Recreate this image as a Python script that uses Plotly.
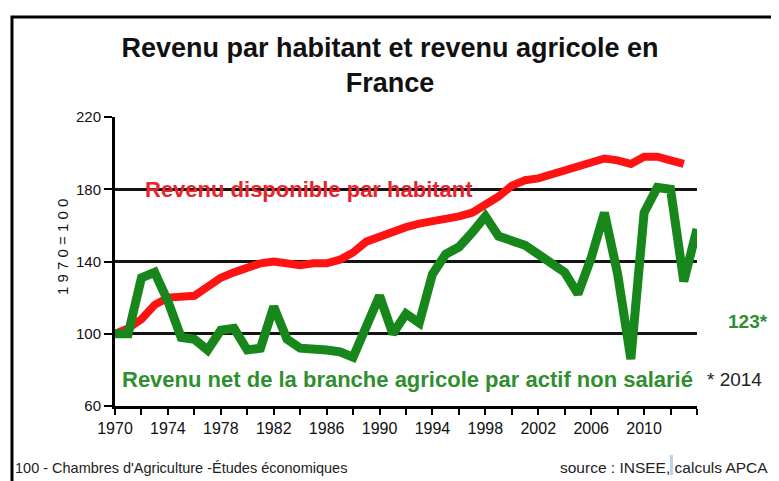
import plotly.graph_objects as go

# Données (base 100 = 1970)
annees_rev = list(range(1970, 2014))
revenu_habitant = [
    100, 103, 108, 116, 120, 120, 121, 126, 131, 134,
    137, 139, 140, 139, 138, 139, 139, 141, 145, 151,
    154, 157, 159, 161, 162, 164, 165, 167, 171, 176,
    182, 185, 186, 188, 190, 192, 194, 197, 196, 194,
    198, 198, 196, 194,
]

annees_agri = list(range(1970, 2015))
revenu_agricole = [
    100, 100, 131, 134, 118, 98, 97, 91, 102, 103,
    91, 92, 115, 97, 92, 92, 91, 90, 87, 104,
    121, 100, 111, 106, 133, 144, 148, 156, 165, 154,
    151, 149, 144, 139, 134, 122, 142, 167, 133, 86,
    167, 181, 180, 129, 158,
]

tick_years = list(range(1970, 2015, 2))
tick_labels = [str(y) if (y - 1970) % 4 == 0 and y <= 2010 else "" for y in tick_years]
y_ticks = [60, 100, 140, 180, 220]

ROUGE = "#ff1212"
VERT = "#17871b"
FONT = "Liberation Sans, Arial, sans-serif"

fig = go.Figure()

fig.add_trace(go.Scatter(
    x=annees_rev, y=revenu_habitant,
    mode="lines",
    line=dict(color=ROUGE, width=8),
    name="Revenu disponible par habitant",
))

fig.add_trace(go.Scatter(
    x=annees_agri, y=revenu_agricole,
    mode="lines",
    line=dict(color=VERT, width=9),
    name="Revenu net de la branche agricole par actif non salarié",
))

annotations = [
    dict(text="Revenu disponible par habitant", x=1984.7, y=180,
         xref="x", yref="y", showarrow=False,
         font=dict(family=FONT, size=22, color="#e8232b", weight="bold")),
    dict(text="Revenu net de la branche agricole par actif non salarié", x=1992.1, y=74.5,
         xref="x", yref="y", showarrow=False,
         font=dict(family=FONT, size=22, color="#2f8f2f", weight="bold")),
    dict(text="* 2014", x=1.065, y=74.5, xref="paper", yref="y",
         xanchor="center", showarrow=False,
         font=dict(family=FONT, size=19, color="#222")),
    dict(text="123*", x=1.088, y=106.6, xref="paper", yref="y",
         xanchor="center", showarrow=False,
         font=dict(family=FONT, size=19, color="#2f8f2f", weight="bold")),
    dict(text="1 9 7 0 = 1 0 0", x=-0.091, y=148, xref="paper", yref="y",
         xanchor="center", showarrow=False, textangle=-90,
         font=dict(family=FONT, size=15, color="#111")),
    dict(text="100 - Chambres d'Agriculture -Études économiques", x=-0.175, y=-0.2145,
         xref="paper", yref="paper", xanchor="left", yanchor="middle", showarrow=False,
         font=dict(family=FONT, size=14.5, color="#222")),
    dict(text="source : INSEE, calculs APCA", x=1.1254, y=-0.2145,
         xref="paper", yref="paper", xanchor="right", yanchor="middle", showarrow=False,
         font=dict(family=FONT, size=15.5, color="#222")),
]

shapes = [
    # cadre
    dict(type="rect", xref="paper", yref="paper",
         x0=-0.177, x1=1.25, y0=-0.45, y1=1.346,
         line=dict(color="black", width=3)),
    # petit repère bleu du pied de page
    dict(type="rect", xref="paper", yref="paper",
         x0=0.9536, x1=0.9588, y0=-0.2388, y1=-0.1696,
         line=dict(width=0), fillcolor="#b7d3f0"),
]

fig.update_layout(
    width=771,
    height=473,
    showlegend=False,
    plot_bgcolor="white",
    paper_bgcolor="white",
    margin=dict(l=107, r=82, t=109, b=75),
    title=dict(
        text="Revenu par habitant et revenu agricole en<br>France",
        x=0.4955, xref="container", xanchor="center",
        y=0.896, yref="container", yanchor="middle",
        font=dict(family=FONT, size=27, color="#111", weight="bold"),
    ),
    xaxis=dict(
        range=[1970, 2014],
        tickvals=tick_years,
        ticktext=tick_labels,
        ticks="outside", ticklen=6, tickwidth=2, tickcolor="black",
        showline=True, linecolor="black", linewidth=3,
        showgrid=False, zeroline=False,
        tickfont=dict(family=FONT, size=16, color="#111"),
    ),
    xaxis2=dict(
        range=[1970, 2014], overlaying="x", anchor="y", side="bottom",
        tickvals=tick_years, showticklabels=False,
        ticks="inside", ticklen=6, tickwidth=2, tickcolor="black",
        showline=False, showgrid=False, zeroline=False,
    ),
    yaxis=dict(
        range=[60, 220],
        tickvals=y_ticks,
        ticks="outside", ticklen=8, tickwidth=2, tickcolor="black",
        showline=True, linecolor="black", linewidth=3,
        showgrid=True, gridcolor="#151515", gridwidth=3,
        zeroline=False,
        tickfont=dict(family=FONT, size=15, color="#111"),
    ),
    annotations=annotations,
    shapes=shapes,
)

fig.write_html("out.html")
